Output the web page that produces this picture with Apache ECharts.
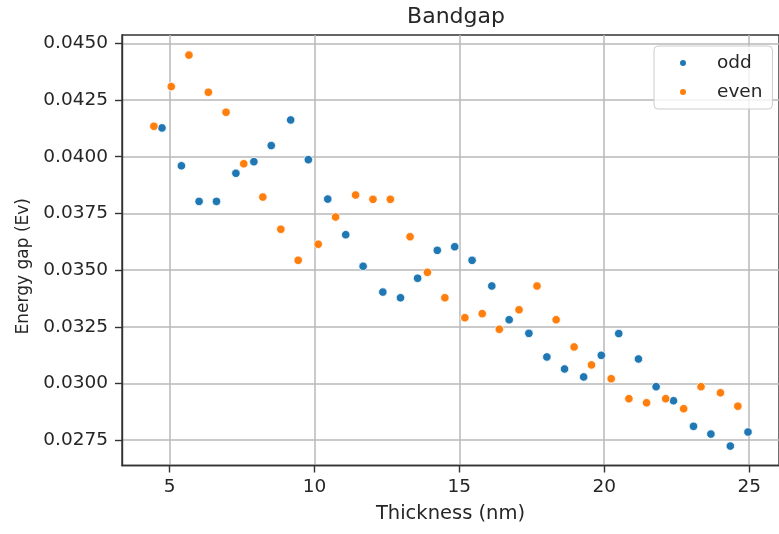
<!DOCTYPE html>
<html>
<head>
<meta charset="utf-8">
<script src="https://cdn.jsdelivr.net/npm/echarts@6/dist/echarts.min.js"></script>
<style>
html,body{margin:0;padding:0;background:#fff;}
#chart{width:779px;height:534px;}
</style>
</head>
<body>
<div id="chart"></div>
<script>
const titleText = 'Bandgap';
const xAxisName = 'Thickness (nm)';
const yAxisName = 'Energy gap (Ev)';
const seriesNames = ['odd', 'even'];

const oddX = [4.74, 5.41, 6.02, 6.62, 7.29, 7.91, 8.51, 9.18, 9.79, 10.46, 11.08, 11.68, 12.36, 12.97, 13.56, 14.24, 14.84, 15.44, 16.12, 16.72, 17.40, 18.02, 18.63, 19.29, 19.90, 20.50, 21.18, 21.79, 22.39, 23.08, 23.68, 24.35, 24.96];
const oddY = [0.04127, 0.03960, 0.03803, 0.03803, 0.03927, 0.03978, 0.04049, 0.04162, 0.03987, 0.03813, 0.03656, 0.03517, 0.03403, 0.03378, 0.03464, 0.03587, 0.03603, 0.03543, 0.03430, 0.03281, 0.03221, 0.03117, 0.03064, 0.03029, 0.03124, 0.03220, 0.03108, 0.02986, 0.02924, 0.02811, 0.02777, 0.02724, 0.02786];
const evenX = [4.46, 5.06, 5.67, 6.34, 6.95, 7.56, 8.22, 8.84, 9.44, 10.13, 10.73, 11.42, 12.02, 12.62, 13.30, 13.90, 14.50, 15.19, 15.79, 16.38, 17.06, 17.68, 18.34, 18.96, 19.56, 20.24, 20.85, 21.46, 22.12, 22.74, 23.34, 24.01, 24.61];
const evenY = [0.04134, 0.04309, 0.04448, 0.04284, 0.04196, 0.03969, 0.03822, 0.03680, 0.03543, 0.03614, 0.03734, 0.03831, 0.03812, 0.03812, 0.03647, 0.03490, 0.03378, 0.03290, 0.03308, 0.03239, 0.03325, 0.03430, 0.03281, 0.03161, 0.03082, 0.03021, 0.02933, 0.02915, 0.02933, 0.02889, 0.02986, 0.02959, 0.02900];

const xTicks = [5, 10, 15, 20, 25];
const yTicks = [0.0275, 0.0300, 0.0325, 0.0350, 0.0375, 0.0400, 0.0425, 0.0450];

const FONT = 'DejaVu Sans';
const TXT = '#262626';
const SPINE = '#333333';
const GRIDC = '#b8b8b8';

function pairs(xs, ys) { return xs.map((x, i) => [x, ys[i]]); }

const chart = echarts.init(document.getElementById('chart'), null, {renderer: 'canvas'});
chart.setOption({
  animation: false,
  backgroundColor: '#ffffff',
  textStyle: {fontFamily: FONT},
  title: {
    text: titleText,
    left: 451, textAlign: 'center',
    top: 1,
    textStyle: {fontFamily: FONT, fontSize: 22, fontWeight: 'normal', color: TXT}
  },
  grid: {
    left: 122, top: 35, width: 663, height: 430.5,
    show: true, borderColor: SPINE, borderWidth: 1.4, backgroundColor: 'transparent'
  },
  legend: {
    orient: 'vertical',
    left: 654, top: 46,
    data: seriesNames,
    icon: 'circle',
    itemWidth: 30, itemHeight: 8,
    itemGap: 9,
    padding: [7, 10, 7, 24],
    borderColor: '#cccccc', borderWidth: 1, borderRadius: 4,
    backgroundColor: 'rgba(255,255,255,0.8)',
    textStyle: {fontFamily: FONT, fontSize: 18.5, color: TXT, padding: [0, 0, 0, 14], lineHeight: 20}
  },
  xAxis: {
    type: 'value',
    min: 3.36, max: 26.03,
    name: xAxisName, nameLocation: 'middle', nameGap: 38,
    nameTextStyle: {fontFamily: FONT, fontSize: 19.5, color: TXT},
    axisLine: {show: true, onZero: false, lineStyle: {color: SPINE, width: 1.4}},
    axisTick: {show: true, inside: false, length: 7, lineStyle: {color: SPINE, width: 1.4}, customValues: xTicks},
    axisLabel: {fontFamily: FONT, fontSize: 18.5, color: TXT, margin: 12, customValues: xTicks},
    splitLine: {show: true, lineStyle: {color: GRIDC, width: 1.5}}
  },
  yAxis: {
    type: 'value',
    min: 0.026384, max: 0.045366,
    name: yAxisName, nameLocation: 'middle', nameGap: 90, nameRotate: 90,
    nameTextStyle: {fontFamily: FONT, fontSize: 17, color: TXT, padding: [0, 32, 0, 0]},
    axisLine: {show: true, onZero: false, lineStyle: {color: SPINE, width: 1.4}},
    axisTick: {show: true, inside: false, length: 7, lineStyle: {color: SPINE, width: 1.4}, customValues: yTicks},
    axisLabel: {fontFamily: FONT, fontSize: 18.5, color: TXT, margin: 14, customValues: yTicks,
      formatter: v => v.toFixed(4)},
    splitLine: {show: true, lineStyle: {color: GRIDC, width: 1.5}}
  },
  series: [
    {
      name: seriesNames[0], type: 'scatter', data: pairs(oddX, oddY),
      symbol: 'circle', symbolSize: 8.5,
      itemStyle: {color: '#1f77b4', borderColor: '#ffffff', borderWidth: 0.8, opacity: 1}
    },
    {
      name: seriesNames[1], type: 'scatter', data: pairs(evenX, evenY),
      symbol: 'circle', symbolSize: 8.5,
      itemStyle: {color: '#ff7f0e', borderColor: '#ffffff', borderWidth: 0.8, opacity: 1}
    }
  ]
});
</script>
</body>
</html>
